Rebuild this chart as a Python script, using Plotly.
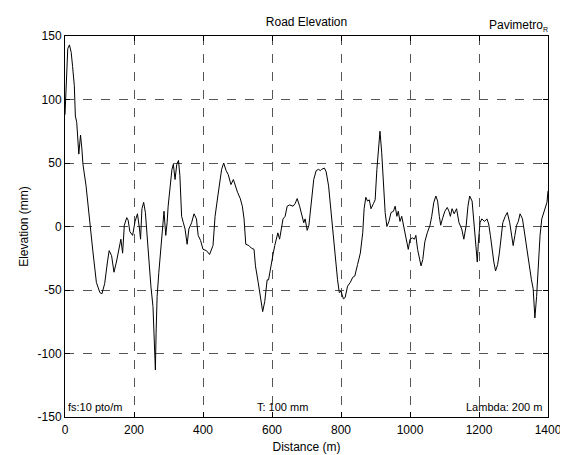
import plotly.graph_objects as go

distance_m = [0, 2, 5, 8, 13, 18, 22, 27, 30, 34, 40, 45, 49, 52, 61, 71, 81, 91, 101, 107,
              115, 123, 128, 135, 142, 149, 156, 162, 167, 172, 179, 183, 188, 196, 203, 210,
              216, 219, 223, 228, 233, 238, 243, 249, 255, 258, 262, 264, 267, 272, 278, 282,
              287, 292, 296, 299, 304, 310, 314, 319, 324, 329, 333, 338, 343, 348, 354, 359,
              367, 374, 381, 386, 393, 400, 410, 419, 429, 435, 443, 448, 454, 460, 467, 473,
              481, 488, 493, 500, 508, 514, 519, 524, 533, 540, 548, 552, 560, 567, 573, 579,
              586, 590, 597, 603, 608, 613, 617, 622, 627, 632, 638, 644, 651, 661, 667, 673,
              680, 687, 692, 696, 702, 707, 712, 716, 721, 728, 735, 740, 744, 752, 757, 764,
              771, 778, 784, 790, 795, 800, 807, 812, 819, 827, 834, 840, 848, 856, 863, 867,
              872, 877, 882, 887, 894, 899, 904, 909, 913, 918, 923, 928, 933, 939, 945, 952,
              957, 962, 966, 971, 976, 984, 990, 995, 1000, 1007, 1013, 1017, 1022, 1027, 1032,
              1037, 1043, 1050, 1058, 1063, 1069, 1075, 1080, 1085, 1089, 1094, 1101, 1108, 1113,
              1117, 1122, 1128, 1135, 1142, 1150, 1156, 1163, 1168, 1173, 1180, 1186, 1191, 1195,
              1198, 1203, 1208, 1216, 1223, 1228, 1233, 1238, 1243, 1248, 1254, 1259, 1264, 1269,
              1276, 1282, 1289, 1294, 1299, 1304, 1309, 1314, 1319, 1326, 1332, 1339, 1346, 1352,
              1357, 1362, 1367, 1372, 1377, 1382, 1388, 1392, 1397, 1400]

elevation_mm = [88, 100, 125, 140, 143, 137, 126, 111, 87, 82, 57, 72, 61, 49, 32, 3, -20, -44, -52, -53,
                -45, -28, -19, -23, -36, -28, -18, -10, -21, 1, 7, 5, -4, -7, 4, 10,
                -2, -10, 14, 19, 11, -10, -28, -47, -63, -89, -113, -84, -55, -36, -15, 0,
                12, -7, 3, 16, 29, 45, 49, 37, 49, 52, 40, 8, 3, -2, -14, -2,
                3, 10, 6, -7, -11, -18, -19, -22, -15, 8, 24, 35, 45, 50, 44, 41,
                33, 37, 32, 27, 22, 16, 6, -14, -15, -17, -18, -31, -44, -55, -67, -59,
                -42, -42, -30, -22, -15, -9, -5, -10, -2, 6, 8, 16, 17, 16, 18, 22,
                16, 8, 3, 6, -3, 1, 14, 27, 37, 44, 45, 44, 45, 46, 43, 32,
                11, -7, -26, -42, -52, -51, -57, -56, -47, -44, -40, -39, -30, -21, -5, 14,
                23, 20, 21, 14, 18, 21, 45, 66, 75, 58, 32, 11, 0, 4, 11, 12,
                16, 8, 12, 4, 8, -2, -12, -18, -10, -9, -10, -7, -18, -26, -31,
                -26, -12, -5, 1, 8, 19, 24, 20, 8, 1, 6, 12, 15, 12,
                8, 14, 10, 14, 3, -2, -10, 1, 16, 24, 20, 3, -15, -28,
                -13, 3, 6, 4, 6, 2, -7, -18, -28, -35, -30, -21, -7, 3,
                8, 11, 3, -7, -15, -7, 1, 4, 10, 6, -5, -18, -34, -42,
                -49, -72, -55, -28, -7, 6, 11, 14, 19, 28]

x_ticks = [0, 200, 400, 600, 800, 1000, 1200, 1400]
x_tick_labels = ["0", "200", "400", "600", "800", "1000", "1200", "1400"]
y_ticks = [-150, -100, -50, 0, 50, 100, 150]
y_tick_labels = ["-150", "-100", "-50", "0", "50", "100", "150"]

FONT = "Liberation Sans, Arial, sans-serif"

fig = go.Figure()
fig.add_trace(go.Scatter(x=distance_m, y=elevation_mm, mode="lines",
                         line=dict(color="black", width=1), showlegend=False))

axis_common = dict(showline=True, linecolor="black", linewidth=1, mirror="allticks",
                   ticks="inside", ticklen=5, tickcolor="black", showgrid=True,
                   gridcolor="#555555", griddash="dash", gridwidth=1, zeroline=False,
                   automargin=False,
                   tickfont=dict(family=FONT, size=12, color="black"))

fig.update_xaxes(range=[0, 1400], tickvals=x_ticks, ticktext=x_tick_labels,
                 ticklabelstandoff=2,
                 title=dict(text="Distance (m)", font=dict(family=FONT, size=12, color="black"),
                            standoff=6),
                 **axis_common)
fig.update_yaxes(range=[-150, 150], tickvals=y_ticks, ticktext=y_tick_labels,
                 title=dict(text="Elevation (mm)", font=dict(family=FONT, size=12, color="black"),
                            standoff=6),
                 **axis_common)

ann_font = dict(family=FONT, size=11, color="black")

# page body adds an 8px offset; figure sized to fit the 568x455 window
fig.update_layout(
    width=560, height=447,
    margin=dict(l=57, r=20, t=28, b=38),
    paper_bgcolor="white", plot_bgcolor="white",
    title=dict(text="Road Elevation", x=0.5, xref="paper", xanchor="center",
               y=1.0, yref="paper", yanchor="bottom", pad=dict(b=10),
               font=dict(family=FONT, size=12, color="black")),
    annotations=[
        dict(text="Pavimetro<sub><span style='font-size:7px'>R</span></sub>",
             xref="paper", yref="paper", x=1.0, y=1.0,
             xanchor="right", yanchor="bottom", xshift=2, yshift=1, showarrow=False,
             font=dict(family=FONT, size=12, color="black")),
        dict(text="fs:10 pto/m", xref="paper", yref="paper", x=0.003, y=0.0,
             xanchor="left", yanchor="middle", yshift=10, showarrow=False, font=ann_font),
        dict(text="T: 100 mm", xref="paper", yref="paper", x=0.451, y=0.0,
             xanchor="center", yanchor="middle", yshift=10, showarrow=False, font=ann_font),
        dict(text="Lambda: 200 m", xref="paper", yref="paper", x=0.992, y=0.0,
             xanchor="right", yanchor="middle", yshift=10, showarrow=False, font=ann_font),
    ],
)

fig.write_html("out.html")
